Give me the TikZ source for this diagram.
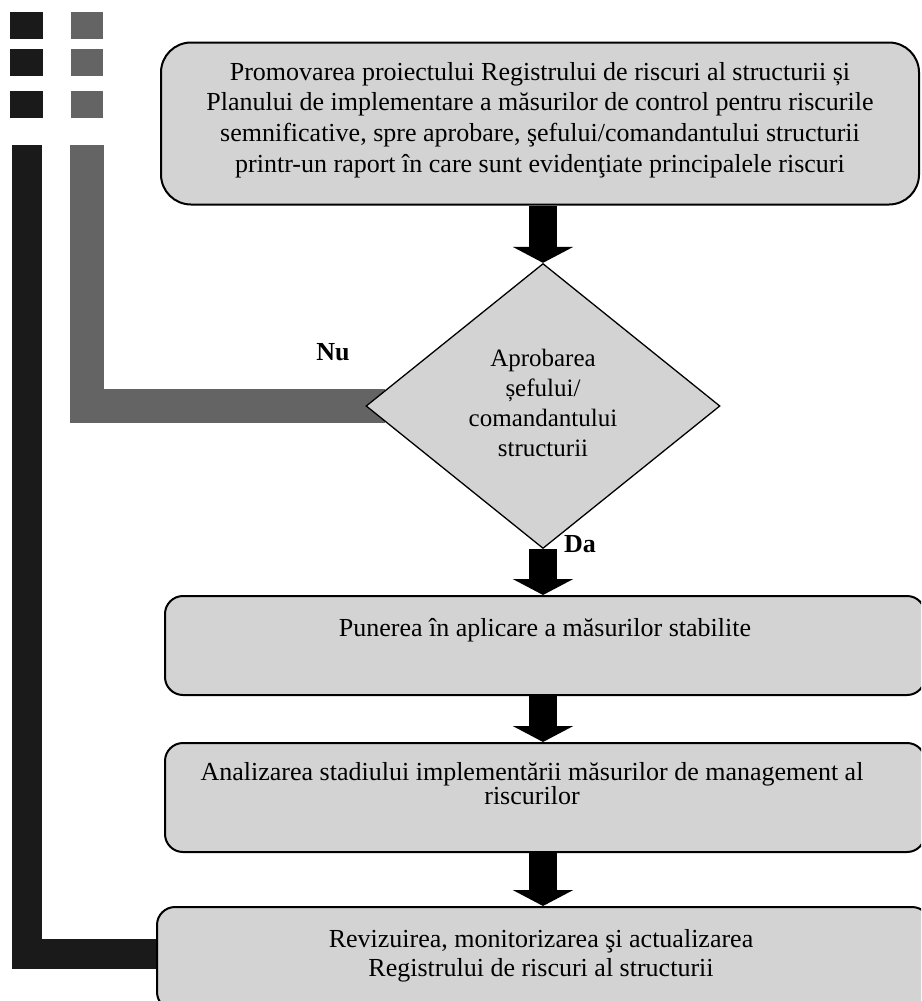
\documentclass[tikz,border=0pt]{standalone}
\usepackage{fontspec}
\setmainfont{Liberation Serif}
\usetikzlibrary{shapes.geometric,arrows.meta,backgrounds}
\definecolor{boxgray}{HTML}{D3D3D3}
\definecolor{barblack}{HTML}{1A1A1A}
\definecolor{bargray}{HTML}{646464}
\begin{document}
\begin{tikzpicture}[x=1pt,y=-1pt,
  box/.style={draw=black, line width=2pt, fill=boxgray, rounded corners=18pt, inner sep=0pt},
  dec/.style={draw=black, line width=1.3pt, fill=boxgray, diamond, inner sep=0pt},
  txt/.style={align=center, font=\fontsize{26}{31}\selectfont, inner sep=0pt},
  lbl/.style={font=\fontsize{26}{30}\selectfont\bfseries, inner sep=0pt, anchor=base},
  fat/.style={draw=black, line width=28pt, -{Triangle[width=60pt,length=16pt]}},
  sqk/.style={fill=barblack, inner sep=0pt, minimum width=33pt, minimum height=27pt},
  sqg/.style={fill=bargray, inner sep=0pt, minimum width=32pt, minimum height=27pt}]
\useasboundingbox (0,0) rectangle (921,1001);
\clip (0,0) rectangle (921,1001);

% legend squares
\node[sqk] (k1) at (26.5,25.5) {};
\node[sqk] (k2) at (26.5,62.5) {};
\node[sqk] (k3) at (26.5,104.5) {};
\node[sqg] (g1) at (87,25.5) {};
\node[sqg] (g2) at (87,62.5) {};
\node[sqg] (g3) at (87,104.5) {};

% boxes
\node[box, rounded corners=30pt, minimum width=758pt, minimum height=162pt] (b1) at (540,123.5) {};
\node[txt, font=\fontsize{26}{30.7}\selectfont] (t1) at (540,120)
  {Promovarea proiectului Registrului de riscuri al structurii și\\
   Planului de implementare a măsurilor de control pentru riscurile\\
   semnificative, spre aprobare, şefului/comandantului structurii\\
   printr-un raport în care sunt evidenţiate principalele riscuri};

\node[dec, minimum width=354pt, minimum height=285pt] (d) at (543,406) {};
\node[txt, font=\fontsize{25}{30}\selectfont] (td) at (543,403)
  {Aprobarea\\șefului/\\comandantului\\structurii};

\node[box, minimum width=760pt, minimum height=99pt] (b2) at (545,645.5) {};
\node[txt, anchor=base] (t2) at (545,636) {Punerea în aplicare a măsurilor stabilite};

\node[box, minimum width=760pt, minimum height=109pt] (b3) at (545,797.5) {};
\node[txt, font=\fontsize{26}{24}\selectfont] (t3) at (532,784) {Analizarea stadiului implementării măsurilor de management al\\riscurilor};

\node[box, minimum width=773pt, minimum height=103pt] (b4) at (543.5,958.5) {};
\node[txt, font=\fontsize{26}{28.5}\selectfont] (t4) at (541,956) {Revizuirea, monitorizarea şi actualizarea\\Registrului de riscuri al structurii};

% labels
\node[lbl] (nu) at (333,360) {Nu};
\node[lbl] (da) at (580,552) {Da};

% fat arrows
\draw[fat] (d.north |- b1.south) -- (d.north);
\draw[fat] (d.south) -- (d.south |- b2.north);
\draw[fat] (d.south |- b2.south) -- (d.south |- b3.north);
\draw[fat] (d.south |- b3.south) -- (d.south |- b4.north);

% feedback bars
\begin{scope}[on background layer]
  \draw[bargray, line width=34pt] (g3.south |- 0,145) |- ([xshift=20pt]d.west);
  \draw[barblack, line width=30pt] (k3.south |- 0,145) |- ([xshift=10pt,yshift=4.5pt]b4.west);
\end{scope}
\end{tikzpicture}
\end{document}
